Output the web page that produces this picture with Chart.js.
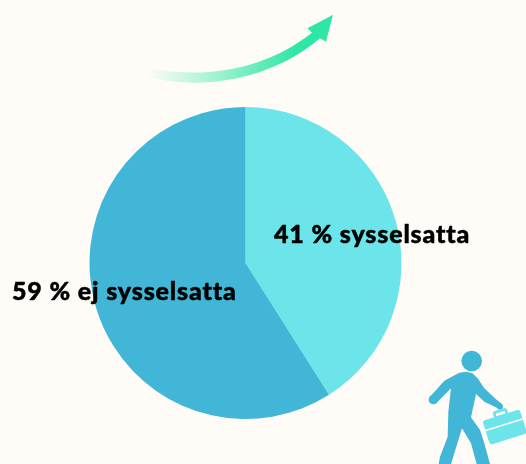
<!DOCTYPE html>
<html><head><meta charset="utf-8">
<style>html,body{margin:0;padding:0;background:#FFFCF7}#w{position:relative;width:526px;height:464px}</style>
<script src="https://cdn.jsdelivr.net/npm/chart.js@4"></script></head>
<body><div id="w"><canvas id="c" width="526" height="464"></canvas></div>
<script>
const categories = ['sysselsatta', 'ej sysselsatta'];
const values = [41, 59];
const sliceLabels = ['41 % sysselsatta', '59 % ej sysselsatta'];
const sliceColors = ['#6BE5E9', '#41B6D6'];
const DARK = sliceColors[1], LIGHT = sliceColors[0];

function arrow(ctx){
  const g = ctx.createLinearGradient(147,0,297,0);
  g.addColorStop(0,'rgba(46,230,166,0)');
  g.addColorStop(1,'rgba(46,230,166,1)');
  ctx.fillStyle = g;
  ctx.beginPath();
  ctx.moveTo(147,67.5);
  ctx.bezierCurveTo(200,79,262,72,312,32.7);
  ctx.lineTo(307.5,28.3);
  ctx.lineTo(333,14.7);
  ctx.lineTo(326,41.7);
  ctx.lineTo(320,38.3);
  ctx.bezierCurveTo(268,82,200,90,147,77);
  ctx.closePath();
  ctx.fill();
}
function walker(ctx){
  const P=(x,y)=>[416+x/3,340+y/3];
  const poly=(pts)=>{ctx.beginPath();pts.forEach((p,i)=>{const q=P(p[0],p[1]);i?ctx.lineTo(q[0],q[1]):ctx.moveTo(q[0],q[1]);});ctx.closePath();ctx.fill();};
  const dot=(x,y,r)=>{const q=P(x,y);ctx.beginPath();ctx.arc(q[0],q[1],r,0,Math.PI*2);ctx.fill();};
  ctx.fillStyle=DARK;
  ctx.beginPath();ctx.arc(471.7,361,10.3,0,Math.PI*2);ctx.fill();
  // body, arms and legs
  poly([[130,98],[150,95],[168,99],[185,115],[205,145],[240,178],[258,192],[252,208],[205,185],[180,162],[165,232],[192,270],[205,310],[222,372],[182,372],[165,310],[138,265],[105,372],[68,372],[72,350],[95,290],[97,215],[105,145],[62,188],[42,170],[85,122]]);
  dot(52,179,4.7);
  dot(252,200,3);
  // briefcase
  ctx.save();
  const c=P(266,260);ctx.translate(c[0],c[1]);ctx.rotate(-17.5*Math.PI/180);
  ctx.fillStyle=LIGHT;
  ctx.beginPath();ctx.roundRect(-19.5,-12,39,25,2.5);ctx.fill();
  ctx.strokeStyle='#FFFCF7';ctx.lineWidth=1.6;
  ctx.beginPath();ctx.moveTo(-21,-2);ctx.lineTo(21,-2);ctx.stroke();
  ctx.strokeStyle=LIGHT;ctx.lineWidth=2.8;
  ctx.beginPath();ctx.roundRect(-6,-16.5,12,5.5,1.5);ctx.stroke();
  ctx.restore();
}
const decor = {
  id:'decor',
  beforeDatasetsDraw(chart){
    const ctx=chart.ctx;ctx.save();arrow(ctx);walker(ctx);ctx.restore();
  },
  afterDatasetsDraw(chart){
    const ctx=chart.ctx;ctx.save();
    ctx.fillStyle='#000';ctx.strokeStyle='#000';ctx.lineWidth=0.5;ctx.lineJoin='round';
    ctx.textBaseline='alphabetic';ctx.textAlign='left';
    ctx.font='900 25px Lato';
    ctx.letterSpacing='0.85px';
    [[sliceLabels[0],274,243],[sliceLabels[1],12,300]].forEach(([t,x,y])=>{ctx.fillText(t,x,y);ctx.strokeText(t,x,y);});
    ctx.restore();
  }
};
new Chart(document.getElementById('c'),{
  type:'pie',
  data:{labels:categories,datasets:[{data:values,backgroundColor:sliceColors,borderWidth:0}]},
  options:{
    responsive:false,animation:false,
    layout:{padding:{left:89.5,right:124.5,top:107,bottom:45}},
    plugins:{legend:{display:false},tooltip:{enabled:false},title:{display:false}}
  },
  plugins:[decor]
});
</script></body></html>
